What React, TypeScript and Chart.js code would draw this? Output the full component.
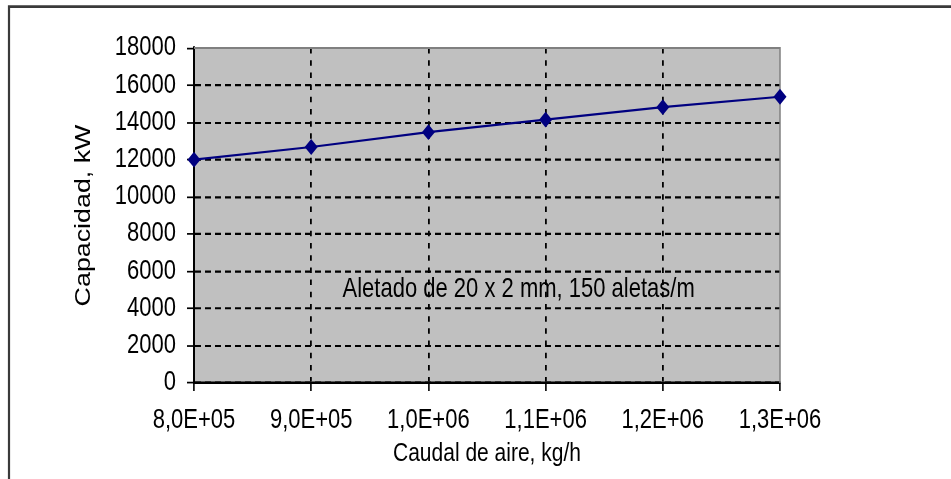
import React, { useEffect, useRef } from "react";
import { Chart, registerables } from "chart.js";

Chart.register(...registerables);

const caudal = [800000, 900000, 1000000, 1100000, 1200000, 1300000];
const capacidad = [12000, 12680, 13480, 14150, 14820, 15380];
const yMin = 0;
const yMax = 18000;
const yStep = 2000;
const xMin = 800000;
const xMax = 1300000;
const xStep = 100000;
const xTitle = "Caudal de aire, kg/h";
const yTitle = "Capacidad, kW";
const noteText = "Aletado de 20 x 2 mm, 150 aletas/m";
const notePos = { x: 1077000, y: 5000 };

const W = 951;
const H = 479;
// the reference is drawn vertically stretched; we lay out on a shorter logical height
const LH = 393;
const SY = H / LH;

const FONT = "'Liberation Sans', Arial, Helvetica, sans-serif";

function fmtSci(v: number): string {
  if (v === 0) return "0,0E+00";
  const e = Math.floor(Math.log10(Math.abs(v)) + 1e-9);
  const m = v / Math.pow(10, e);
  const es = (e < 0 ? "-" : "+") + String(Math.abs(e)).padStart(2, "0");
  return m.toFixed(1).replace(".", ",") + "E" + es;
}

const framePlugin = {
  id: "framePlugin",
  beforeDraw(chart: any) {
    const { ctx, chartArea, width, height } = chart;
    ctx.save();
    ctx.fillStyle = "#ffffff";
    ctx.fillRect(0, 0, width, height);
    ctx.strokeStyle = "#3a3a3a";
    ctx.lineWidth = 2.2;
    ctx.beginPath();
    ctx.moveTo(width, 5.4);
    ctx.lineTo(9, 5.4);
    ctx.lineTo(9, height);
    ctx.stroke();
    ctx.fillStyle = "#c0c0c0";
    ctx.fillRect(chartArea.left, chartArea.top, chartArea.right - chartArea.left, chartArea.bottom - chartArea.top);
    ctx.restore();
  },
  beforeDatasetsDraw(chart: any) {
    const { ctx, chartArea } = chart;
    ctx.save();
    ctx.strokeStyle = "#808080";
    ctx.lineWidth = 1.5;
    ctx.beginPath();
    ctx.moveTo(chartArea.left, chartArea.top);
    ctx.lineTo(chartArea.right, chartArea.top);
    ctx.lineTo(chartArea.right, chartArea.bottom);
    ctx.stroke();
    const xs = chart.scales.x;
    const ys = chart.scales.y;
    ctx.fillStyle = "#000000";
    ctx.font = "22px " + FONT;
    ctx.textAlign = "center";
    ctx.textBaseline = "middle";
    ctx.fillText(noteText, xs.getPixelForValue(notePos.x), ys.getPixelForValue(notePos.y));
    ctx.restore();
  },
};

export default function App() {
  const ref = useRef<HTMLCanvasElement | null>(null);
  useEffect(() => {
    const canvas = ref.current;
    if (!canvas) return;
    canvas.width = W;
    canvas.height = LH;
    const chart = new Chart(canvas, {
      type: "line",
      data: {
        datasets: [
          {
            label: "Capacidad",
            data: caudal.map((x, i) => ({ x, y: capacidad[i] })),
            borderColor: "#000080",
            backgroundColor: "#000080",
            borderWidth: 1.8,
            pointStyle: "rectRot",
            pointRadius: 6.5,
            pointHoverRadius: 6.5,
            pointBorderWidth: 0,
            tension: 0,
            clip: false as any,
          },
        ],
      },
      options: {
        responsive: false,
        animation: false,
        events: [],
        devicePixelRatio: 1,
        layout: { padding: { left: 0, top: 39.4, right: 171, bottom: 0 } },
        plugins: {
          legend: { display: false },
          tooltip: { enabled: false },
          title: { display: false },
        },
        scales: {
          x: {
            type: "linear",
            min: xMin,
            max: xMax,
            afterFit: (s: any) => {
              s.height = 78.8;
            },
            ticks: {
              stepSize: xStep,
              color: "#000",
              font: { family: FONT, size: 22 },
              padding: 11.5,
              maxRotation: 0,
              autoSkip: false,
              callback: (v: any) => fmtSci(Number(v)),
            },
            grid: {
              color: (c: any) => (c.tick && c.tick.value === xMax ? "rgba(0,0,0,0)" : "#000"),
              lineWidth: 1.8,
              tickColor: "#000",
              tickBorderDash: [],
              tickWidth: 1.6,
              tickLength: 6.6,
              drawTicks: true,
            },
            border: { display: true, color: "#000", width: 2, dash: [4.5, 5.5] },
            title: {
              display: true,
              text: xTitle,
              color: "#000",
              font: { family: FONT, size: 21 },
              padding: { top: 0, bottom: 8 },
            },
          },
          y: {
            type: "linear",
            min: yMin,
            max: yMax,
            afterFit: (s: any) => {
              s.width = 194;
            },
            ticks: {
              stepSize: yStep,
              color: "#000",
              font: { family: FONT, size: 22 },
              padding: 11,
              autoSkip: false,
              callback: (v: any) => String(v),
            },
            grid: {
              color: (c: any) => (c.tick && c.tick.value === yMax ? "rgba(0,0,0,0)" : "#000"),
              lineWidth: 1.8,
              tickColor: "#000",
              tickBorderDash: [],
              tickWidth: 1.4,
              tickLength: 7,
              drawTicks: true,
            },
            border: { display: true, color: "#000", width: 2, dash: [6, 4] },
            title: {
              display: true,
              text: yTitle,
              color: "#000",
              font: { family: FONT, size: 22 },
              padding: { top: 71, bottom: 0 },
            },
          },
        },
      },
      plugins: [framePlugin],
    } as any);
    // stretch vertically onto the full-height bitmap, keeping the drawing crisp
    canvas.width = W;
    canvas.height = H;
    const ctx = canvas.getContext("2d");
    if (ctx) {
      ctx.setTransform(1, 0, 0, SY, 0, 0);
      chart.draw();
    }
    return () => chart.destroy();
  }, []);
  return (
    <canvas
      ref={ref}
      width={W}
      height={H}
      style={{ position: "absolute", left: 0, top: 0, width: W, height: H, display: "block" }}
    />
  );
}
